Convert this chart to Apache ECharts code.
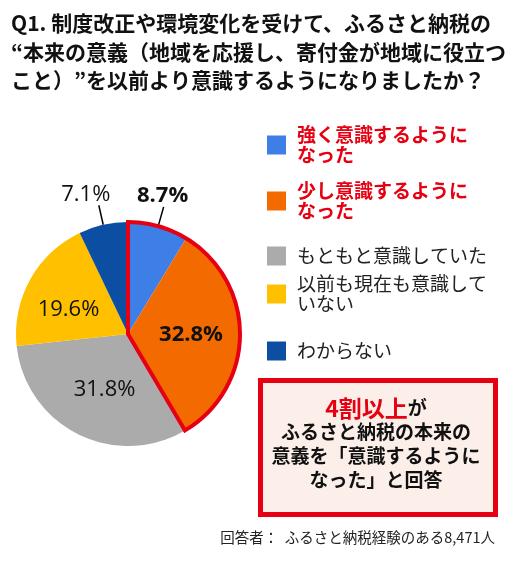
<!DOCTYPE html>
<html>
<head>
<meta charset="utf-8">
<script src="https://cdn.jsdelivr.net/npm/echarts@6/dist/echarts.min.js"></script>
<style>
html, body { margin: 0; padding: 0; background: #fff; }
#chart { width: 520px; height: 565px; }
</style>
</head>
<body>
<div id="chart"></div>
<script>
var categories = ['強く意識するようになった', '少し意識するようになった', 'もともと意識していた', '以前も現在も意識していない', 'わからない'];
var legendLabels = ['強く意識するように\nなった', '少し意識するように\nなった', 'もともと意識していた', '以前も現在も意識して\nいない', 'わからない'];
var values = [8.7, 32.8, 31.8, 19.6, 7.1];
var colors = ['#3D7FE6', '#F26A00', '#ABABAB', '#FFC000', '#0C4EA2'];
var highlighted = [true, true, false, false, false];
var outsideLabel = [true, false, false, false, true];

var jp = '"Noto Sans CJK JP", "Noto Sans", sans-serif';
var red = '#E60012';

var chart = echarts.init(document.getElementById('chart'));

// 強く+少し の合計（赤枠）
var awareSum = 0;
for (var i = 0; i < values.length; i++) {
	if (highlighted[i]) awareSum += values[i];
}
var totalSum = values.reduce(function(a, b) { return a + b; }, 0);

var pieData = values.map(function(v, i) {
	var item = {
		name: categories[i],
		value: v,
		itemStyle: { color: colors[i] },
		label: {
			position: outsideLabel[i] ? 'outside' : 'inside',
			fontWeight: highlighted[i] ? 'bold' : 'normal'
		}
	};
	if (outsideLabel[i]) {
		item.labelLine = { show: true, length: 20, length2: 0, lineStyle: { color: '#000', width: 1.5 } };
	}
	return item;
});

// legend: one per item so that the square lines up with the first text line
var legendTops = [115, 171, 246, 264, 341];
var legends = categories.map(function(name, i) {
	var twoLine = legendLabels[i].indexOf('\n') >= 0;
	return {
		data: [name],
		orient: 'vertical',
		left: 267,
		top: legendTops[i],
		padding: 0,
		icon: 'rect',
		itemWidth: 19,
		itemHeight: 19,
		selectedMode: false,
		formatter: function() { return legendLabels[i]; },
		textStyle: {
			fontFamily: jp,
			fontSize: 19,
			lineHeight: 20,
			color: highlighted[i] ? red : '#222',
			fontWeight: highlighted[i] ? 'bold' : 'normal',
			padding: [twoLine ? 20 : 0, 0, 0, 6]
		}
	};
});

var option = {
	animation: false,
	color: colors,
	title: {
		text: 'Q1. 制度改正や環境変化を受けて、ふるさと納税の\n“本来の意義（地域を応援し、寄付金が地域に役立つ\nこと）”を以前より意識するようになりましたか？',
		left: 6,
		top: 4,
		textStyle: {
			fontFamily: jp,
			fontSize: 21,
			fontWeight: 'bold',
			lineHeight: 28.5,
			color: '#111'
		}
	},
	legend: legends,
	series: [{
		type: 'pie',
		center: [128, 334],
		radius: [0, 112],
		startAngle: 90,
		clockwise: true,
		silent: true,
		label: {
			show: true,
			fontFamily: '"Open Sans", "Noto Sans", sans-serif',
			fontSize: 22,
			color: '#111',
			formatter: function(p) { return p.value.toFixed(1) + '%'; }
		},
		labelLayout: function(p) {
			var i = p.dataIndex;
			if (outsideLabel[i]) {
				return { align: 'center', verticalAlign: 'bottom', dx: i === 0 ? -6 : -8 };
			}
			if (i === 3) return { dx: -8, dy: 4 };
			if (i === 2) return { dx: 3, dy: 3 };
			if (i === 1) return { dx: 4 };
			return {};
		},
		itemStyle: { borderWidth: 0 },
		data: pieData
	}, {
		type: 'pie',
		center: [128, 334],
		radius: [0, 112],
		startAngle: 90,
		clockwise: true,
		silent: true,
		z: 5,
		label: { show: false },
		labelLine: { show: false },
		data: [{
			name: 'aware',
			value: awareSum,
			itemStyle: { color: 'rgba(0,0,0,0)', borderColor: red, borderWidth: 4, borderJoin: 'miter' }
		}, {
			name: 'rest',
			value: totalSum - awareSum,
			itemStyle: { color: 'rgba(0,0,0,0)', borderWidth: 0 }
		}]
	}],
	graphic: [{
		type: 'rect',
		left: 258,
		top: 378,
		shape: { width: 235, height: 134 },
		style: { fill: '#FCEEE8', stroke: red, lineWidth: 5 }
	}, {
		type: 'text',
		x: 376,
		y: 396,
		style: {
			text: '{r|4割以上}{b|が}\n{b|ふるさと納税の本来の}\n{b|意義を「意識するように}\n{b|なった」と回答}',
			align: 'center',
			verticalAlign: 'top',
			rich: {
				r: { fontFamily: jp, fontSize: 23, fontWeight: 'bold', fill: red, lineHeight: 24 },
				b: { fontFamily: jp, fontSize: 19, fontWeight: 'bold', fill: '#111', lineHeight: 24 }
			}
		}
	}, {
		type: 'text',
		x: 495,
		y: 537,
		style: {
			text: '回答者：  ふるさと納税経験のある8,471人',
			fontFamily: jp,
			fontSize: 14.5,
			fill: '#222',
			align: 'right',
			verticalAlign: 'middle'
		}
	}]
};

chart.setOption(option);
</script>
</body>
</html>
